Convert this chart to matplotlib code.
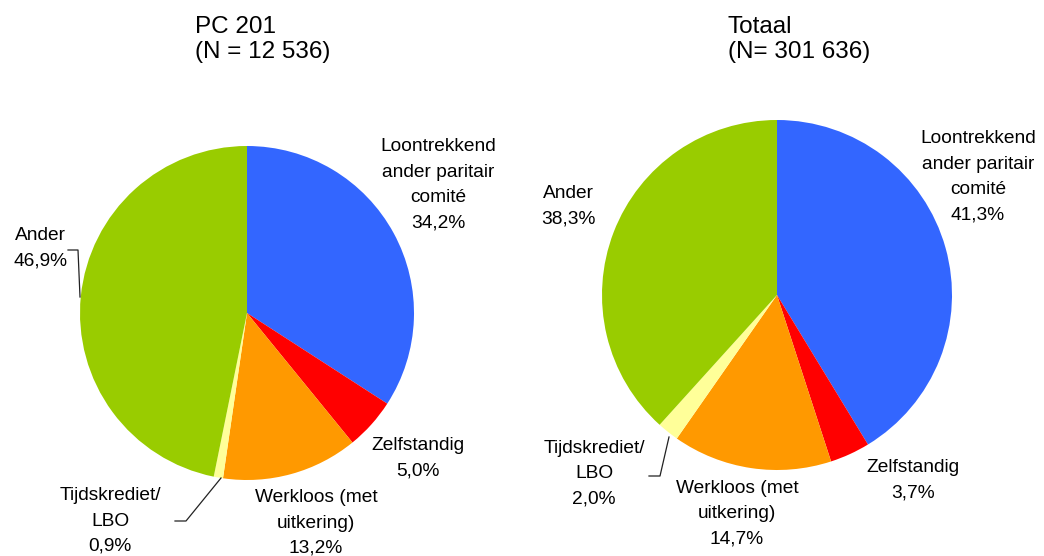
import matplotlib
matplotlib.use("Agg")
import matplotlib.pyplot as plt

plt.rcParams['font.family'] = ['Liberation Sans', 'DejaVu Sans']

categories = ["Loontrekkend\nander paritair\ncomité", "Zelfstandig", "Werkloos (met\nuitkering)",
              "Tijdskrediet/\nLBO", "Ander"]
pc201_values = [34.2, 5.0, 13.2, 0.9, 46.9]
pc201_labels = ["34,2%", "5,0%", "13,2%", "0,9%", "46,9%"]
totaal_values = [41.3, 3.7, 14.7, 2.0, 38.3]
totaal_labels = ["41,3%", "3,7%", "14,7%", "2,0%", "38,3%"]
titles = ["PC 201\n(N = 12 536)", "Totaal\n(N= 301 636)"]
colors = ["#3366FF", "#FF0000", "#FF9900", "#FFFF99", "#99CC00"]

W, H = 1044, 556
fig = plt.figure(figsize=(W / 100, H / 100), dpi=100)
ax = fig.add_axes([0, 0, 1, 1])
ax.set_xlim(0, W)
ax.set_ylim(0, H)
ax.axis('off')

def Y(py):
    return H - py

# layout (pixel coords)
pies = [
    dict(vals=pc201_values, labs=pc201_labels, center=(247, 313), r=167, title_pos=(195, 16),
         label_pos=[(438, 185), (418, 458), (316, 523), (110, 521), (40, 248)],
         leaders=[[(221, 478), (186, 521), (175, 521)], [(80, 297), (78, 250), (68, 250)]]),
    dict(vals=totaal_values, labs=totaal_labels, center=(777, 295), r=175, title_pos=(728, 16),
         label_pos=[(978, 177), (913, 480), (737, 514), (594, 474), (568, 206)],
         leaders=[[(669, 437), (660, 476), (649, 476)]]),
]

for p, title in zip(pies, titles):
    cx, cy = p['center']
    ax.pie(p['vals'], colors=colors, startangle=90, counterclock=False,
           center=(cx, Y(cy)), radius=p['r'], frame=True,
           wedgeprops=dict(linewidth=0))
    tx, ty = p['title_pos']
    ax.text(tx, Y(ty), title, fontsize=17.5, ha='left', va='top', linespacing=1.2)
    for cat, lab, (lx, ly) in zip(categories, p['labs'], p['label_pos']):
        ax.text(lx, Y(ly), cat + "\n" + lab, fontsize=13.8, ha='center', va='center',
                linespacing=1.65)
    for pts in p['leaders']:
        xs = [q[0] for q in pts]
        ys = [Y(q[1]) for q in pts]
        ax.plot(xs, ys, color='#222222', lw=0.9)

ax.set_xlim(0, W)
ax.set_ylim(0, H)
ax.set_aspect('auto')
fig.savefig("out.png", dpi=100)
